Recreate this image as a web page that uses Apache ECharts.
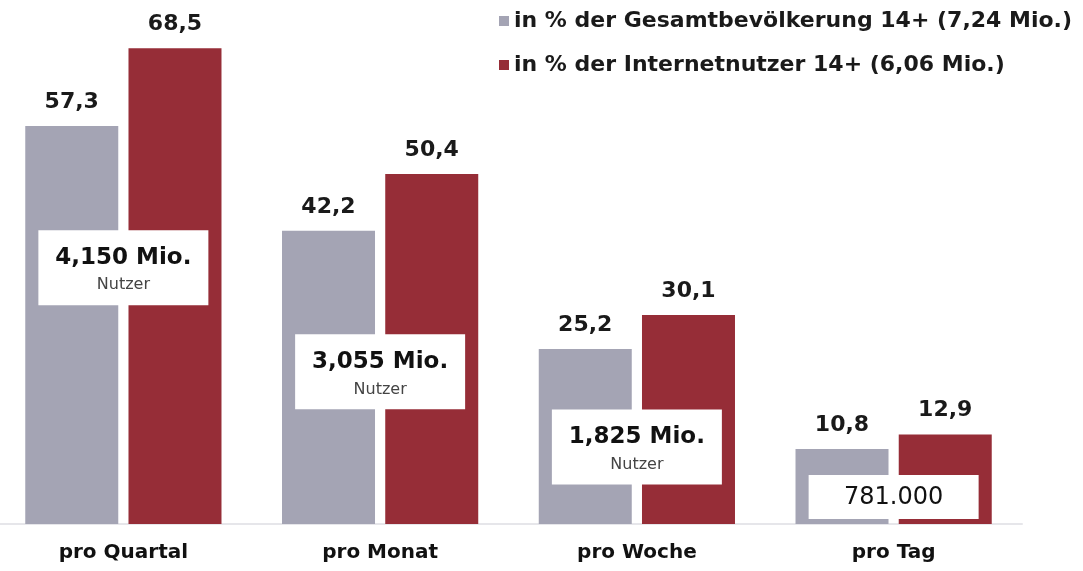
<!DOCTYPE html>
<html>
<head>
    <meta charset="UTF-8">
    <title>Nutzer pro Zeitraum</title>
    <script src="https://cdn.jsdelivr.net/npm/echarts@6/dist/echarts.min.js"></script>
    <style>
    html, body { margin: 0; padding: 0; background: #fff; }
    #chart { width: 1083px; height: 571px; }
    </style>
</head>
<body>
<div id="chart"></div>
<script>
// Daten
var categories = ['pro Quartal', 'pro Monat', 'pro Woche', 'pro Tag'];
var seriesNames = ['in % der Gesamtbevölkerung 14+ (7,24 Mio.)', 'in % der Internetnutzer 14+ (6,06 Mio.)'];
var gesamt = [57.3, 42.2, 25.2, 10.8];
var internet = [68.5, 50.4, 30.1, 12.9];
var nutzerMio = ['4,150 Mio.', '3,055 Mio.', '1,825 Mio.', '781.000'];
var nutzerSub = ['Nutzer', 'Nutzer', 'Nutzer', ''];

// Lage der weissen Kaesten (in Achsenwerten)
var boxLevel = [36.9, 21.9, 11.1, 3.9];

var font = '"DejaVu Sans", Arial, sans-serif';

function fmt(v) {
    return String(v).replace('.', ',');
}

var boxData = categories.map(function (c, i) {
    var txt = nutzerSub[i] ? '{a|' + nutzerMio[i] + '}\n{b|' + nutzerSub[i] + '}' : '{c|' + nutzerMio[i] + '}';
    return { value: [i, boxLevel[i]], label: { formatter: txt, padding: nutzerSub[i] ? [11, 0, 9, 0] : [9, 0, 8, 0] } };
});

var valueLabel = {
    show: true,
    position: 'top',
    distance: 13,
    fontSize: 22,
    fontWeight: 'bold',
    color: '#1a1a1a',
    formatter: function (p) { return fmt(p.value); }
};

var chart = echarts.init(document.getElementById('chart'));
var option = {
    animation: false,
    textStyle: { fontFamily: font },
    legend: {
        orient: 'vertical',
        left: 494,
        top: 5,
        itemWidth: 10,
        itemHeight: 10,
        itemGap: 22,
        icon: 'rect',
        data: seriesNames,
        textStyle: { fontSize: 22, color: '#1a1a1a', fontWeight: 'bold' }
    },
    grid: { left: -5, right: 61, top: 3, bottom: 47, outerBoundsMode: 'none' },
    xAxis: {
        type: 'category',
        data: categories,
        axisTick: { show: false },
        axisLine: { lineStyle: { color: '#e6e6ea', width: 2 } },
        axisLabel: { fontSize: 20, fontWeight: 'bold', color: '#111', margin: 19 }
    },
    yAxis: {
        type: 'value',
        min: 0,
        max: 75,
        show: false
    },
    series: [{
        name: seriesNames[0],
        type: 'bar',
        data: gesamt,
        barWidth: 93,
        barGap: '11%',
        itemStyle: { color: '#a4a4b4' },
        label: valueLabel
    }, {
        name: seriesNames[1],
        type: 'bar',
        data: internet,
        barWidth: 93,
        barGap: '11%',
        itemStyle: { color: '#962d37' },
        label: valueLabel
    }, {
        type: 'scatter',
        data: boxData,
        symbolSize: 0,
        z: 10,
        silent: true,
        itemStyle: { opacity: 1 },
        label: {
            show: true,
            position: 'inside',
            opacity: 1,
            backgroundColor: '#ffffff',
            width: 170,
            align: 'center',
            rich: {
                a: { fontSize: 23, fontWeight: 'bold', color: '#111', lineHeight: 33, align: 'center' },
                b: { fontSize: 16, color: '#444', lineHeight: 22, align: 'center' },
                c: { fontSize: 24, color: '#111', lineHeight: 27, align: 'center' }
            }
        }
    }]
};
chart.setOption(option);
</script>
</body>
</html>
